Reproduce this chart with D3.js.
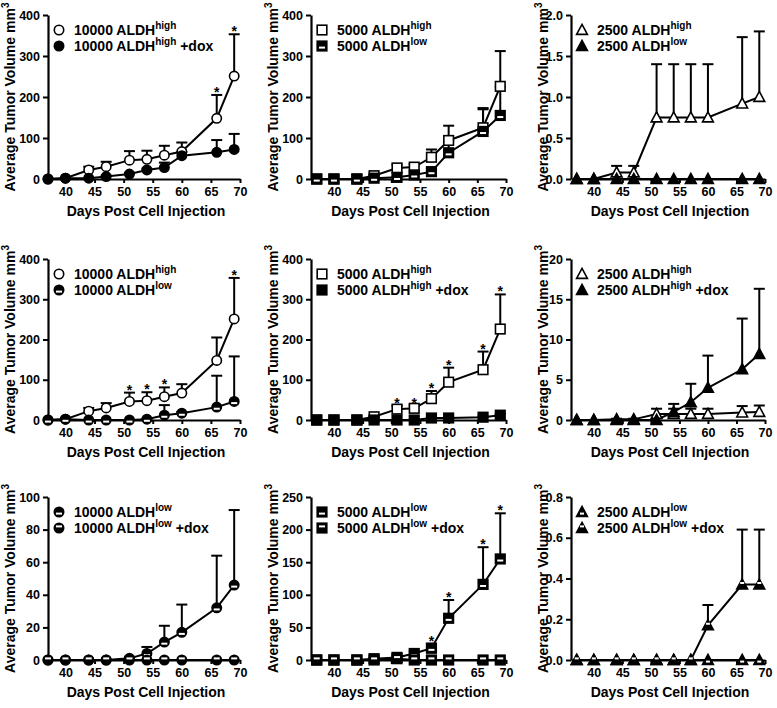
<!DOCTYPE html>
<html><head><meta charset="utf-8">
<script src="https://cdn.jsdelivr.net/npm/d3@7"></script>
<style>
body{margin:0;background:#fff}
svg{display:block}
text{font-family:"Liberation Sans",Arial,Helvetica,sans-serif;font-weight:bold;fill:#000}
</style>
</head><body>
<svg id="chart" width="777" height="708"></svg>
<script>
// ---------- data ----------
const days = [37, 40, 44, 47, 51, 54, 57, 60, 66, 69];
const xTicks = [40, 45, 50, 55, 60, 65, 70];

const hi10000       = [0, 2, 22, 30, 46, 48, 58, 67, 148, 251];
const hi10000Sem    = [0, 0, 8, 12, 22, 21, 23, 22, 57, 102];
const hi10000Dox    = [0, 2, 2, 6, 12, 22, 28, 57, 65, 72];
const hi10000DoxSem = [0, 0, 0, 2, 3, 3, 12, 9, 30, 38];

const lo10000A      = [0, 2, 0, 0, 0, 2, 12, 17, 32, 46];
const lo10000SemA   = [0, 0, 0, 0, 0, 1, 25, 3, 78, 112];
const lo10000B      = [0, 0, 0, 0, 1, 4, 11, 17, 32, 46];
const lo10000SemB   = [0, 0, 0, 0, 1, 4, 10, 17, 32, 46];
const lo10000Dox    = [0, 0, 0, 0, 0, 0, 0, 0, 0, 0];
const lo10000DoxSem = [0, 0, 0, 0, 0, 0, 0, 0, 0, 0];

const hi5000        = [0, 0, 0, 8, 27, 29, 53, 94, 125, 226];
const hi5000Sem     = [0, 0, 0, 2, 8, 7, 19, 36, 45, 86];
const lo5000        = [0, 0, 0, 2, 4, 10, 18, 64, 116, 155];
const lo5000Sem     = [0, 0, 0, 1, 2, 3, 7, 28, 57, 70];
const hi5000Dox     = [0, 0, 0, 0, 0, 0, 5, 5, 7, 12];
const hi5000DoxSem  = [0, 0, 0, 0, 0, 0, 1, 1, 2, 3];
const lo5000Dox     = [0, 0, 0, 0, 2, 0, 0, 0, 0, 0];
const lo5000DoxSem  = [0, 0, 0, 0, 0, 0, 0, 0, 0, 0];

const hi2500        = [0, 0, 0.08, 0.08, 0.75, 0.75, 0.75, 0.75, 0.92, 1.0];
const hi2500Sem     = [0, 0, 0.08, 0.08, 0.65, 0.65, 0.65, 0.65, 0.81, 0.8];
const lo2500        = [0, 0, 0, 0, 0, 0, 0, 0, 0, 0];
const lo2500Sem     = [0, 0, 0, 0, 0, 0, 0, 0, 0, 0];
const hi2500Dox     = [0, 0, 0, 0, 0, 1.0, 2.2, 4.0, 6.3, 8.2];
const hi2500DoxSem  = [0, 0, 0, 0, 0, 1.0, 2.3, 4.0, 6.3, 8.1];
const lo2500Dox     = [0, 0, 0, 0, 0, 0, 0, 0.17, 0.37, 0.37];
const lo2500DoxSem  = [0, 0, 0, 0, 0, 0, 0, 0.1, 0.27, 0.27];

const ticks400 = [0, 100, 200, 300, 400];
const ticks2   = [0, 0.5, 1.0, 1.5, 2.0];
const ticks20  = [0, 5, 10, 15, 20];
const ticks100 = [0, 20, 40, 60, 80, 100];
const ticks250 = [0, 50, 100, 150, 200, 250];
const ticks08  = [0, 0.2, 0.4, 0.6, 0.8];

// ---------- layout ----------
const cols = [{x0: 48, x1: 240, d0: 37}, {x0: 311, x1: 506, d0: 36}, {x0: 571, x1: 765, d0: 36}];
const rows = [{yTop: 15, yBot: 179}, {yTop: 259, yBot: 420}, {yTop: 497, yBot: 660}];
const yTitleX = [15, 278, 548];

const panels = [
  {c: 0, r: 0, ticks: ticks400, fmt: "d", stars: [66, 69], series: [
    {lab: ["10000 ALDH", "high", ""], shape: "circle", fill: "open", v: hi10000, e: hi10000Sem},
    {lab: ["10000 ALDH", "high", " +dox"], shape: "circle", fill: "filled", v: hi10000Dox, e: hi10000DoxSem}]},
  {c: 1, r: 0, ticks: ticks400, fmt: "d", stars: [], series: [
    {lab: ["5000 ALDH", "high", ""], shape: "square", fill: "open", v: hi5000, e: hi5000Sem},
    {lab: ["5000 ALDH", "low", ""], shape: "square", fill: "barLow", v: lo5000, e: lo5000Sem}]},
  {c: 2, r: 0, ticks: ticks2, fmt: ".1f", stars: [], series: [
    {lab: ["2500 ALDH", "high", ""], shape: "triangle", fill: "open", v: hi2500, e: hi2500Sem},
    {lab: ["2500 ALDH", "low", ""], shape: "triangle", fill: "filled", v: lo2500, e: lo2500Sem}]},
  {c: 0, r: 1, ticks: ticks400, fmt: "d", stars: [51, 54, 57, 69], series: [
    {lab: ["10000 ALDH", "high", ""], shape: "circle", fill: "open", v: hi10000, e: hi10000Sem},
    {lab: ["10000 ALDH", "low", ""], shape: "circle", fill: "barLow", v: lo10000A, e: lo10000SemA}]},
  {c: 1, r: 1, ticks: ticks400, fmt: "d", stars: [51, 54, 57, 60, 66, 69], series: [
    {lab: ["5000 ALDH", "high", ""], shape: "square", fill: "open", v: hi5000, e: hi5000Sem},
    {lab: ["5000 ALDH", "high", " +dox"], shape: "square", fill: "filled", v: hi5000Dox, e: hi5000DoxSem}]},
  {c: 2, r: 1, ticks: ticks20, fmt: "d", stars: [], series: [
    {lab: ["2500 ALDH", "high", ""], shape: "triangle", fill: "open", v: hi2500, e: hi2500Sem},
    {lab: ["2500 ALDH", "high", " +dox"], shape: "triangle", fill: "filled", v: hi2500Dox, e: hi2500DoxSem}]},
  {c: 0, r: 2, ticks: ticks100, fmt: "d", stars: [], series: [
    {lab: ["10000 ALDH", "low", ""], shape: "circle", fill: "barLow", v: lo10000B, e: lo10000SemB},
    {lab: ["10000 ALDH", "low", " +dox"], shape: "circle", fill: "barHigh", v: lo10000Dox, e: lo10000DoxSem}]},
  {c: 1, r: 2, ticks: ticks250, fmt: "d", stars: [57, 60, 66, 69], series: [
    {lab: ["5000 ALDH", "low", ""], shape: "square", fill: "barLow", v: lo5000, e: lo5000Sem},
    {lab: ["5000 ALDH", "low", " +dox"], shape: "square", fill: "barHigh", v: lo5000Dox, e: lo5000DoxSem}]},
  {c: 2, r: 2, ticks: ticks08, fmt: ".1f", stars: [], series: [
    {lab: ["2500 ALDH", "low", ""], shape: "triangle", fill: "barLow", v: lo2500, e: lo2500Sem},
    {lab: ["2500 ALDH", "low", " +dox"], shape: "triangle", fill: "barHigh", v: lo2500Dox, e: lo2500DoxSem}]}
];

const svg = d3.select("#chart");

function drawMarker(g, shape, fill, x, y) {
  let el;
  if (shape === "circle") {
    el = g.append("circle").attr("cx", x).attr("cy", y).attr("r", 4.7);
  } else if (shape === "square") {
    el = g.append("rect").attr("x", x - 4.8).attr("y", y - 4.8).attr("width", 9.6).attr("height", 9.6);
  } else {
    el = g.append("path").attr("d", `M${x},${y - 5.6}L${x + 5.4},${y + 4.4}L${x - 5.4},${y + 4.4}Z`);
  }
  el.attr("fill", fill === "open" ? "#fff" : "#000").attr("stroke", "#000").attr("stroke-width", 1.6)
    .attr("stroke-linejoin", "miter");
  if (fill === "barLow" || fill === "barHigh") {
    const w = shape === "triangle" ? 4 : 6;
    const yy = fill === "barLow" ? y + 0.6 : y - 2.6;
    g.append("rect").attr("x", x - w / 2).attr("y", yy).attr("width", w).attr("height", 2).attr("fill", "#fff");
  }
}

panels.forEach(p => {
  const C = cols[p.c], R = rows[p.r];
  const x = d3.scaleLinear().domain([C.d0, 70]).range([C.x0, C.x1]);
  const yMax = p.ticks[p.ticks.length - 1];
  const y = d3.scaleLinear().domain([0, yMax]).range([R.yBot, R.yTop]);
  const g = svg.append("g");

  // axes
  const xa = g.append("g").attr("transform", `translate(0,${R.yBot})`)
    .call(d3.axisBottom(x).tickValues(xTicks).tickSize(4).tickSizeOuter(0).tickPadding(4));
  const ya = g.append("g").attr("transform", `translate(${C.x0},0)`)
    .call(d3.axisLeft(y).tickValues(p.ticks).tickSize(5).tickSizeOuter(0).tickPadding(3)
      .tickFormat(d3.format(p.fmt)));
  [xa, ya].forEach(a => {
    a.select(".domain").attr("stroke", "#000").attr("stroke-width", 2.2);
    a.selectAll(".tick line").attr("stroke", "#000").attr("stroke-width", 2);
    a.selectAll(".tick text").style("font-size", "12.5px").attr("fill", "#000");
  });

  // axis titles
  const yt = g.append("text")
    .attr("transform", `translate(${yTitleX[p.c]},${(R.yTop + R.yBot) / 2}) rotate(-90)`)
    .attr("text-anchor", "middle").style("font-size", "14px");
  yt.append("tspan").text("Average Tumor Volume mm");
  yt.append("tspan").attr("dy", -6).style("font-size", "10px").text("3");
  g.append("text").attr("x", (C.x0 + C.x1) / 2 + 2).attr("y", R.yBot + 37)
    .attr("text-anchor", "middle").style("font-size", "14px").text("Days Post Cell Injection");

  // error bars
  p.series.forEach(s => {
    s.v.forEach((v, i) => {
      if (s.e[i] <= 0) return;
      const xx = x(days[i]), y0 = y(v), y1 = y(v + s.e[i]);
      g.append("line").attr("x1", xx).attr("x2", xx).attr("y1", y0).attr("y2", y1)
        .attr("stroke", "#000").attr("stroke-width", 2);
      g.append("line").attr("x1", xx - 5.5).attr("x2", xx + 5.5).attr("y1", y1).attr("y2", y1)
        .attr("stroke", "#000").attr("stroke-width", 2);
    });
  });
  // lines
  const line = d3.line().x((d, i) => x(days[i])).y(d => y(d));
  p.series.forEach(s => {
    g.append("path").attr("d", line(s.v)).attr("fill", "none").attr("stroke", "#000").attr("stroke-width", 2);
  });
  // markers
  p.series.forEach(s => {
    s.v.forEach((v, i) => drawMarker(g, s.shape, s.fill, x(days[i]), y(v)));
  });
  // stars
  p.stars.forEach(d => {
    const i = days.indexOf(d);
    const top = d3.max(p.series, s => s.v[i] + s.e[i]);
    g.append("text").attr("x", x(d)).attr("y", y(top) + 2).attr("text-anchor", "middle")
      .style("font-size", "14px").text("*");
  });
  // legend
  p.series.forEach((s, k) => {
    const cy = R.yTop + 15 + k * 16;
    drawMarker(g, s.shape, s.fill, C.x0 + 11, cy);
    const t = g.append("text").attr("x", C.x0 + 26).attr("y", cy + 5).style("font-size", "14px");
    t.append("tspan").text(s.lab[0]);
    t.append("tspan").attr("dy", -6).style("font-size", "10px").text(s.lab[1]);
    if (s.lab[2]) t.append("tspan").attr("dy", 6).style("font-size", "14px").text(s.lab[2]);
  });
});
</script>
</body></html>
